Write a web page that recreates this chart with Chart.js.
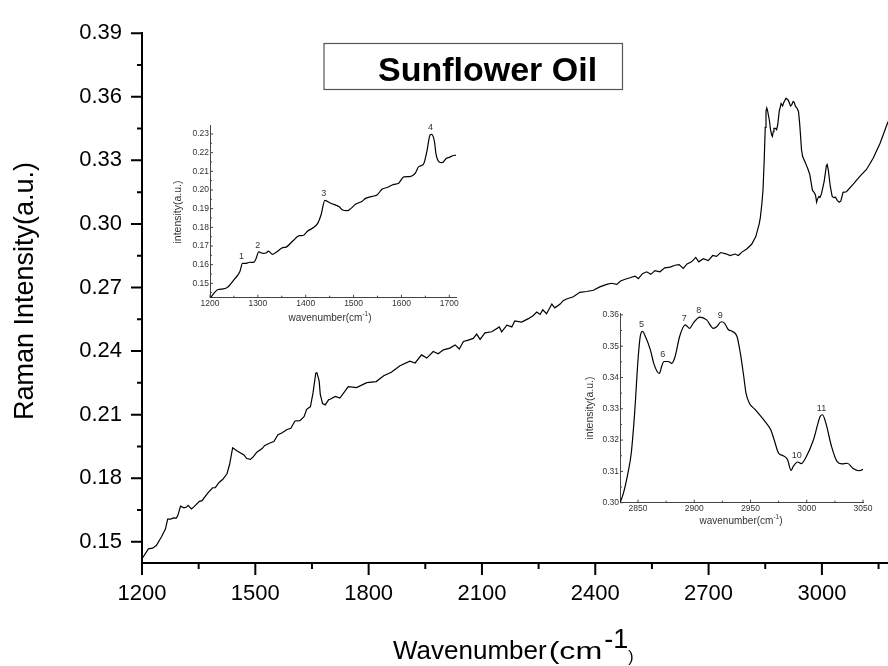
<!DOCTYPE html>
<html>
<head>
<meta charset="utf-8">
<title>Sunflower Oil Raman spectrum</title>
<script src="https://cdn.jsdelivr.net/npm/chart.js@4.4.1/dist/chart.umd.min.js"></script>
<style>
  html, body { margin: 0; padding: 0; background: #fff; overflow: hidden; }
  #wrap { position: relative; width: 888px; height: 666px; }
  canvas { position: absolute; }
  #mainChart { left: 0; top: 0; }
  #inset1 { left: 140px; top: 110px; }
  #inset2 { left: 560px; top: 300px; }
</style>
</head>
<body>
<div id="wrap">
  <canvas id="mainChart" width="888" height="666"></canvas>
  <canvas id="inset1" width="330" height="220"></canvas>
  <canvas id="inset2" width="328" height="230"></canvas>
</div>
<script>
// Raman spectrum of sunflower oil (wavenumber in cm-1, intensity in a.u.)
const wavenumber = [
  1200, 1217, 1228, 1238, 1252, 1262, 1268, 1276, 1283, 1291, 1295, 1302, 1311, 1318, 1322, 1331,
  1338, 1352, 1359, 1373, 1387, 1394, 1404, 1414, 1425, 1432, 1440, 1452, 1470, 1477, 1487, 1494,
  1504, 1518, 1525, 1539, 1549, 1560, 1570, 1584, 1594, 1605, 1618, 1629, 1636, 1646, 1653, 1660,
  1663, 1669, 1672, 1678, 1685, 1694, 1698, 1712, 1724, 1746, 1768, 1795, 1820, 1840, 1860, 1883,
  1909, 1923, 1940, 1954, 1971, 1984, 1998, 2015, 2029, 2040, 2051, 2064, 2077, 2086, 2095, 2108,
  2126, 2146, 2152, 2166, 2179, 2187, 2205, 2223, 2236, 2245, 2254, 2261, 2271, 2285, 2293, 2307,
  2315, 2324, 2342, 2359, 2377, 2395, 2412, 2430, 2443, 2457, 2467, 2479, 2492, 2505, 2514, 2525,
  2536, 2547, 2558, 2571, 2584, 2598, 2611, 2622, 2633, 2643, 2655, 2666, 2674, 2686, 2699, 2711,
  2721, 2732, 2746, 2757, 2770, 2779, 2788, 2801, 2814, 2825, 2834, 2837, 2841, 2844, 2847, 2850,
  2852, 2854, 2856, 2861, 2864, 2867, 2869, 2871, 2873, 2877, 2880, 2883, 2887, 2892, 2896, 2899,
  2905, 2911, 2917, 2920, 2924, 2927, 2930, 2934, 2938, 2941, 2944, 2946, 2949, 2954, 2958, 2963,
  2968, 2971, 2975, 2979, 2983, 2986, 2988, 2992, 2995, 2999, 3006, 3012, 3014, 3017, 3022, 3027,
  3031, 3036, 3041, 3046, 3050, 3056, 3065, 3083, 3101, 3118, 3136, 3154, 3167, 3175
];
const intensity = [
  0.1420, 0.1467, 0.1470, 0.1482, 0.1525, 0.1560, 0.1607, 0.1607, 0.1613, 0.1612, 0.1625, 0.1668, 0.1660, 0.1664, 0.1672, 0.1655,
  0.1666, 0.1691, 0.1694, 0.1727, 0.1755, 0.1756, 0.1780, 0.1795, 0.1821, 0.1866, 0.1944, 0.1929, 0.1910, 0.1893, 0.1889, 0.1900,
  0.1923, 0.1940, 0.1955, 0.1966, 0.1973, 0.2005, 0.2013, 0.2030, 0.2036, 0.2070, 0.2072, 0.2090, 0.2125, 0.2138, 0.2205, 0.2296,
  0.2298, 0.2259, 0.2196, 0.2152, 0.2146, 0.2170, 0.2173, 0.2186, 0.2178, 0.2232, 0.2228, 0.2251, 0.2256, 0.2284, 0.2300, 0.2331,
  0.2352, 0.2344, 0.2382, 0.2367, 0.2398, 0.2387, 0.2406, 0.2414, 0.2429, 0.2410, 0.2445, 0.2452, 0.2460, 0.2480, 0.2455, 0.2486,
  0.2491, 0.2514, 0.2491, 0.2522, 0.2514, 0.2542, 0.2537, 0.2553, 0.2568, 0.2584, 0.2573, 0.2595, 0.2576, 0.2622, 0.2604, 0.2622,
  0.2638, 0.2646, 0.2656, 0.2677, 0.2681, 0.2687, 0.2703, 0.2715, 0.2720, 0.2715, 0.2731, 0.2739, 0.2746, 0.2754, 0.2742, 0.2765,
  0.2774, 0.2762, 0.2780, 0.2774, 0.2793, 0.2796, 0.2805, 0.2808, 0.2790, 0.2811, 0.2821, 0.2842, 0.2821, 0.2836, 0.2827, 0.2851,
  0.2847, 0.2865, 0.2859, 0.2851, 0.2858, 0.2851, 0.2867, 0.2882, 0.2904, 0.2940, 0.3000, 0.3030, 0.3094, 0.3158, 0.3286, 0.3456,
  0.3531, 0.3547, 0.3536, 0.3488, 0.3445, 0.3419, 0.3413, 0.3435, 0.3451, 0.3451, 0.3445, 0.3467, 0.3531, 0.3568, 0.3557, 0.3573,
  0.3593, 0.3584, 0.3557, 0.3562, 0.3578, 0.3573, 0.3554, 0.3547, 0.3531, 0.3477, 0.3403, 0.3350, 0.3318, 0.3298, 0.3281, 0.3259,
  0.3233, 0.3201, 0.3158, 0.3150, 0.3137, 0.3103, 0.3116, 0.3130, 0.3125, 0.3143, 0.3201, 0.3276, 0.3281, 0.3254, 0.3180, 0.3131,
  0.3124, 0.3126, 0.3110, 0.3102, 0.3107, 0.3149, 0.3152, 0.3188, 0.3226, 0.3257, 0.3311, 0.3381, 0.3443, 0.3482
];

// main axes
const mainXTicks = [1200, 1500, 1800, 2100, 2400, 2700, 3000];
const mainXMinor = [1350, 1650, 1950, 2250, 2550, 2850, 3150];
const mainYTicks = [0.15, 0.18, 0.21, 0.24, 0.27, 0.30, 0.33, 0.36, 0.39];
const mainYMinor = [0.165, 0.195, 0.225, 0.255, 0.285, 0.315, 0.345, 0.375];

// fingerprint inset (1200-1700)
const inset1XTicks = [1200, 1300, 1400, 1500, 1600, 1700];
const inset1XMinor = [1250, 1350, 1450, 1550, 1650];
const inset1YTicks = [0.15, 0.16, 0.17, 0.18, 0.19, 0.20, 0.21, 0.22, 0.23];
const inset1YMinor = [0.145, 0.155, 0.165, 0.175, 0.185, 0.195, 0.205, 0.215, 0.225];
const inset1Peaks = [1268, 1302, 1440, 1663];
const inset1PeakNames = ['1', '2', '3', '4'];

// C-H stretch inset (2834-3050)
const inset2XTicks = [2850, 2900, 2950, 3000, 3050];
const inset2XMinor = [2875, 2925, 2975, 3025];
const inset2YTicks = [0.30, 0.31, 0.32, 0.33, 0.34, 0.35, 0.36];
const inset2YMinor = [0.305, 0.315, 0.325, 0.335, 0.345, 0.355];
const inset2Peaks = [2854, 2873, 2892, 2905, 2924, 2992, 3014];
const inset2PeakNames = ['5', '6', '7', '8', '9', '10', '11'];

const FONT = "'Liberation Sans', Arial, Helvetica, sans-serif";
const spectrum = wavenumber.map((w, i) => ({ x: w, y: intensity[i] }));

// draws a row of text pieces with their own size, vertical shift and
// horizontal stretch (sx)
function drawRuns(ctx, x, baseline, runs, color, align) {
  ctx.save();
  ctx.fillStyle = color;
  ctx.textBaseline = 'alphabetic';
  ctx.textAlign = 'left';
  const widthOf = r => {
    ctx.font = (r.bold ? 'bold ' : '') + r.size + 'px ' + FONT;
    return ctx.measureText(r.text).width * (r.sx || 1) + (r.gap || 0);
  };
  let total = 0;
  runs.forEach(r => { total += widthOf(r); });
  let cx = align === 'center' ? x - total / 2 : x;
  runs.forEach(r => {
    const w = widthOf(r);
    ctx.save();
    ctx.translate(cx + (r.gap || 0), baseline + (r.dy || 0));
    ctx.scale(r.sx || 1, 1);
    ctx.fillText(r.text, 0, 0);
    ctx.restore();
    cx += w;
  });
  ctx.restore();
}

function drawRotated(ctx, text, cx, cy, size, color) {
  ctx.save();
  ctx.translate(cx, cy);
  ctx.rotate(-Math.PI / 2);
  ctx.fillStyle = color;
  ctx.font = size + 'px ' + FONT;
  ctx.textAlign = 'center';
  ctx.textBaseline = 'alphabetic';
  ctx.fillText(text, 0, 0);
  ctx.restore();
}

const mainDecor = {
  id: 'mainDecor',
  afterDraw(chart) {
    const { ctx, scales: { x, y } } = chart;
    ctx.save();
    ctx.strokeStyle = '#000';
    ctx.lineWidth = 2;
    ctx.beginPath();
    mainXTicks.forEach(v => { const p = x.getPixelForValue(v); ctx.moveTo(p, x.top); ctx.lineTo(p, x.top + 12); });
    mainXMinor.forEach(v => { const p = x.getPixelForValue(v); ctx.moveTo(p, x.top); ctx.lineTo(p, x.top + 6); });
    mainYTicks.forEach(v => { const p = y.getPixelForValue(v); ctx.moveTo(y.right, p); ctx.lineTo(y.right - 11, p); });
    mainYMinor.forEach(v => { const p = y.getPixelForValue(v); ctx.moveTo(y.right, p); ctx.lineTo(y.right - 5, p); });
    ctx.stroke();

    // title box
    ctx.lineWidth = 1.2;
    ctx.strokeStyle = '#555';
    ctx.strokeRect(324, 43.5, 298.5, 46);
    ctx.restore();
    drawRuns(ctx, 378, 80.7, [{ text: 'Sunflower Oil', size: 34, bold: true }], '#000', 'left');

    // axis titles
    drawRuns(ctx, 393, 659, [
      { text: 'Wavenumber', size: 26 },
      { text: '(cm', size: 23, sx: 1.4, gap: 2 },
      { text: '-1', size: 27, dy: -11, gap: 2 },
      { text: ')', size: 16, dy: 3 }
    ], '#000', 'left');
    drawRotated(ctx, 'Raman Intensity(a.u.)', 33, 291, 27, '#000');
  }
};

new Chart(document.getElementById('mainChart'), {
  type: 'line',
  data: {
    datasets: [{
      data: spectrum,
      borderColor: '#000',
      borderWidth: 1.2,
      pointRadius: 0,
      tension: 0,
      fill: false
    }]
  },
  options: {
    responsive: false,
    animation: false,
    events: [],
    layout: { padding: { top: 25, right: 0, bottom: 0, left: 0 } },
    plugins: { legend: { display: false }, tooltip: { enabled: false } },
    scales: {
      x: {
        type: 'linear',
        min: 1200,
        max: 3175,
        afterBuildTicks: s => { s.ticks = mainXTicks.map(v => ({ value: v })); },
        afterFit: s => { s.height = 103; },
        grid: { display: false, drawTicks: false },
        border: { display: true, color: '#000', width: 2 },
        ticks: {
          autoSkip: false, maxRotation: 0, padding: 18, color: '#000',
          font: { family: FONT, size: 22 },
          callback: v => String(v)
        }
      },
      y: {
        type: 'linear',
        min: 0.14,
        max: 0.39,
        afterBuildTicks: s => { s.ticks = mainYTicks.map(v => ({ value: v })); },
        afterFit: s => { s.width = 142; },
        grid: { display: false, drawTicks: false },
        border: { display: true, color: '#000', width: 2 },
        ticks: {
          autoSkip: false, padding: 20, color: '#000',
          font: { family: FONT, size: 22 },
          callback: v => v.toFixed(2)
        }
      }
    }
  },
  plugins: [mainDecor]
});

function makeInset(id, o) {
  const decor = {
    id: 'insetDecor',
    afterDraw(chart) {
      const { ctx, scales: { x, y } } = chart;
      ctx.save();
      ctx.strokeStyle = '#444';
      ctx.lineWidth = 1;
      ctx.beginPath();
      o.xTicks.forEach(v => { const p = x.getPixelForValue(v); ctx.moveTo(p, x.top); ctx.lineTo(p, x.top - 3); });
      o.xMinor.forEach(v => { const p = x.getPixelForValue(v); ctx.moveTo(p, x.top); ctx.lineTo(p, x.top - 2); });
      o.yTicks.forEach(v => { const p = y.getPixelForValue(v); ctx.moveTo(y.right, p); ctx.lineTo(y.right + 3, p); });
      o.yMinor.forEach(v => { const p = y.getPixelForValue(v); ctx.moveTo(y.right, p); ctx.lineTo(y.right + 2, p); });
      ctx.stroke();

      // peak numbers above their maxima
      ctx.fillStyle = '#333';
      ctx.font = '9px ' + FONT;
      ctx.textAlign = 'center';
      ctx.textBaseline = 'bottom';
      o.peaks.forEach((w, i) => {
        const k = wavenumber.indexOf(w);
        ctx.fillText(o.peakNames[i], x.getPixelForValue(w) - 1, y.getPixelForValue(intensity[k]) - 2);
      });
      ctx.restore();

      drawRuns(ctx, o.xTitle[0], o.xTitle[1], [
        { text: 'wavenumber(cm', size: 10 },
        { text: '-1', size: 6.5, dy: -5 },
        { text: ')', size: 10 }
      ], '#333', 'center');
      drawRotated(ctx, 'intensity(a.u.)', o.yTitle[0], o.yTitle[1], 10.5, '#333');
    }
  };

  return new Chart(document.getElementById(id), {
    type: 'line',
    data: {
      datasets: [{
        data: spectrum,
        borderColor: '#000',
        borderWidth: 1.2,
        pointRadius: 0,
        cubicInterpolationMode: 'monotone',
        fill: false
      }]
    },
    options: {
      responsive: false,
      animation: false,
      events: [],
      layout: { padding: { top: o.padTop, right: o.padRight, bottom: 0, left: 0 } },
      plugins: { legend: { display: false }, tooltip: { enabled: false } },
      scales: {
        x: {
          type: 'linear', min: o.xMin, max: o.xMax,
          afterBuildTicks: s => { s.ticks = o.xTicks.map(v => ({ value: v })); },
          afterFit: s => { s.height = o.xHeight; },
          grid: { display: false, drawTicks: false },
          border: { display: true, color: '#444', width: 1 },
          ticks: {
            autoSkip: false, maxRotation: 0, padding: 1, color: '#333',
            font: { family: FONT, size: 8.5 },
            callback: v => String(v)
          }
        },
        y: {
          type: 'linear', min: o.yMin, max: o.yMax,
          afterBuildTicks: s => { s.ticks = o.yTicks.map(v => ({ value: v })); },
          afterFit: s => { s.width = o.yWidth; },
          grid: { display: false, drawTicks: false },
          border: { display: true, color: '#444', width: 1 },
          ticks: {
            autoSkip: false, padding: 1, color: '#333',
            font: { family: FONT, size: 8.5 },
            callback: v => v.toFixed(2)
          }
        }
      }
    },
    plugins: [decor]
  });
}

makeInset('inset1', {
  xMin: 1200, xMax: 1714, yMin: 0.1423, yMax: 0.2348,
  padTop: 15, padRight: 14, yWidth: 70, xHeight: 32.3,
  xTicks: inset1XTicks, xMinor: inset1XMinor, yTicks: inset1YTicks, yMinor: inset1YMinor,
  peaks: inset1Peaks, peakNames: inset1PeakNames,
  xTitle: [190, 211], yTitle: [40.5, 102]
});

makeInset('inset2', {
  xMin: 2834, xMax: 3050, yMin: 0.30, yMax: 0.3605,
  padTop: 13.3, padRight: 25, yWidth: 60, xHeight: 27.3,
  xTicks: inset2XTicks, xMinor: inset2XMinor, yTicks: inset2YTicks, yMinor: inset2YMinor,
  peaks: inset2Peaks, peakNames: inset2PeakNames,
  xTitle: [181, 224], yTitle: [32.5, 108]
});
</script>
</body>
</html>
